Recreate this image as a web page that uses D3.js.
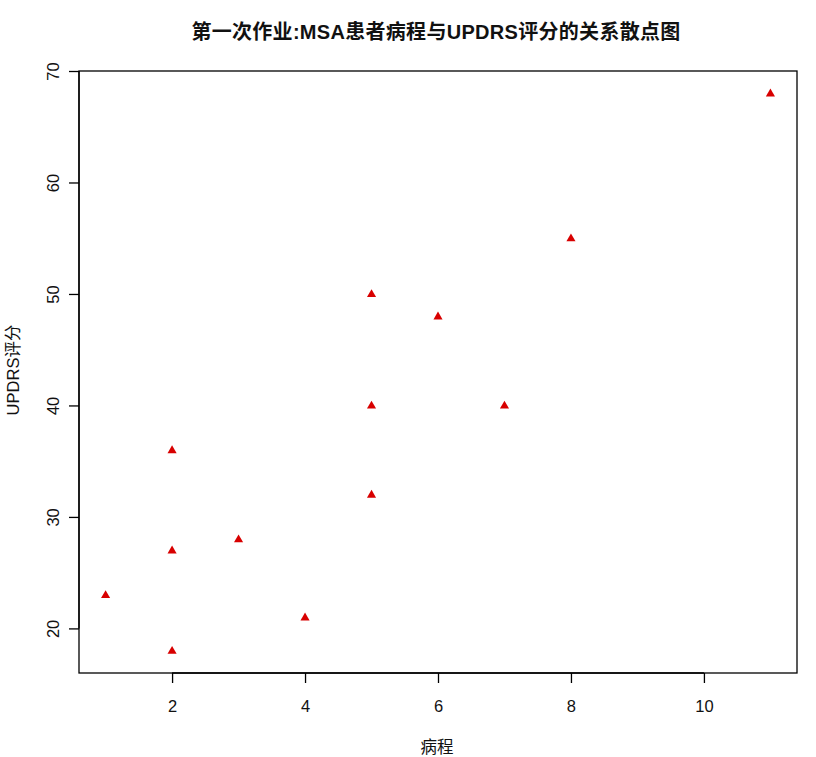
<!DOCTYPE html>
<html><head><meta charset="utf-8">
<script src="https://cdn.jsdelivr.net/npm/d3@7"></script>
<style>
body{margin:0;background:#fff;}
text{font-family:"Liberation Sans",Arial,"Noto Sans CJK SC",sans-serif;}
</style></head>
<body><svg id="c" width="816" height="757"></svg>
<script>
const duration = [1, 2, 2, 2, 3, 4, 5, 5, 5, 6, 7, 8, 11];
const updrs    = [23, 18, 27, 36, 28, 21, 32, 40, 50, 48, 40, 55, 68];
const xTicks = [2, 4, 6, 8, 10];
const yTicks = [20, 30, 40, 50, 60, 70];
const title = "第一次作业:MSA患者病程与UPDRS评分的关系散点图";
const xLabel = "病程";
const yLabel = "UPDRS评分";

const svg = d3.select("#c");
const L = 79, R = 797, T = 71, B = 673;
const x = d3.scaleLinear().domain([0.6, 11.4]).range([L, R]);
const y = d3.scaleLinear().domain([16, 70]).range([B, T]);

svg.append("rect").attr("x", L).attr("y", T).attr("width", R - L).attr("height", B - T)
  .attr("fill", "none").attr("stroke", "#000").attr("stroke-width", 1.3);

const xa = svg.append("g").attr("transform", `translate(0,${B})`)
  .call(d3.axisBottom(x).tickValues(xTicks).tickSize(10).tickPadding(17).tickFormat(d3.format("d")));
xa.select(".domain").attr("d", `M${x(2)},0H${x(10)}`).attr("stroke-width", 1.3);
xa.selectAll(".tick line").attr("stroke-width", 1.3);
xa.selectAll("text").style("font-size", "16.5px").attr("fill", "#111");

const ya = svg.append("g").attr("transform", `translate(${L},0)`)
  .call(d3.axisLeft(y).tickValues(yTicks).tickSize(10).tickFormat(d3.format("d")));
ya.select(".domain").attr("d", `M0,${y(20)}V${y(70)}`).attr("stroke-width", 1.3);
ya.selectAll(".tick line").attr("stroke-width", 1.3);
ya.selectAll(".tick text").style("font-size", "16.5px").attr("fill", "#111")
  .attr("x", null).attr("dy", null)
  .attr("text-anchor", "middle")
  .attr("transform", "translate(-26,0) rotate(-90)")
  .attr("dominant-baseline", "central");

svg.append("g").selectAll("path").data(duration.map((d, i) => [d, updrs[i]])).join("path")
  .attr("d", d3.symbol(d3.symbolTriangle, 36))
  .attr("transform", d => `translate(${x(d[0])},${y(d[1]) + 0.5})`)
  .attr("fill", "#d80000");

svg.append("text").attr("x", 436).attr("y", 39).attr("text-anchor", "middle")
  .style("font-size", "20px").style("letter-spacing", "0.3px").attr("font-weight", "bold").attr("fill", "#111").text(title);
svg.append("text").attr("x", 437).attr("y", 753).attr("text-anchor", "middle")
  .style("font-size", "16.5px").attr("fill", "#111").text(xLabel);
svg.append("text").attr("transform", "translate(19,370) rotate(-90)").attr("text-anchor", "middle")
  .style("font-size", "16.5px").attr("fill", "#111").text(yLabel);
</script></body></html>
